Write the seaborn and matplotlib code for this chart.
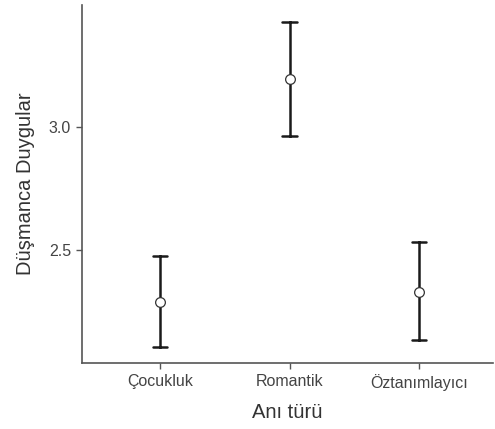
import pandas as pd
import matplotlib
matplotlib.use("Agg")
import matplotlib.pyplot as plt
import seaborn as sns

# summary values: mean and interval ends per memory type
categories = ["Çocukluk", "Romantik", "Öztanımlayıcı"]
means = [2.29, 3.195, 2.33]
lower = [2.105, 2.964, 2.133]
upper = [2.476, 3.426, 2.533]

# long table: each category gets its lower, mean and upper value;
# the median is the mean and min/max give the interval
rows = []
for cat, lo, m, hi in zip(categories, lower, means, upper):
    for v in (lo, m, hi):
        rows.append({"Anı türü": cat, "Düşmanca Duygular": v})
df = pd.DataFrame(rows)

sns.set_style("white")
plt.rcParams["font.family"] = ["Liberation Sans", "DejaVu Sans"]

fig = plt.figure(figsize=(4.95, 4.29), dpi=100)
ax = fig.add_axes([0.166, 0.154, 0.83, 0.834])

sns.pointplot(
    data=df, x="Anı türü", y="Düşmanca Duygular", order=categories,
    estimator="median", errorbar=lambda x: (x.min(), x.max()),
    color="#1a1a1a", linestyle="none", capsize=0.11,
    err_kws={"linewidth": 1.8, "color": "#1a1a1a"},
    marker="o", markersize=7, markerfacecolor="white",
    markeredgecolor="#333333", markeredgewidth=0.9, ax=ax,
)

# keep the open circles above the error bars
for line in ax.lines:
    if line.get_marker() == "o":
        line.set_zorder(5)

ax.set_ylim(2.042, 3.493)
ax.set_xlim(-0.6, 2.57)
ax.set_yticks([2.5, 3.0])
ax.set_yticklabels(["2.5", "3.0"])

sns.despine(ax=ax)
for side in ("left", "bottom"):
    ax.spines[side].set_color("#555555")
    ax.spines[side].set_linewidth(1.2)
ax.tick_params(axis="both", bottom=True, left=True, length=4, width=1,
               color="#555555", labelsize=11.5, labelcolor="#444444", pad=4)
ax.set_xlabel("Anı türü", fontsize=14.5, color="#333333", labelpad=9)
ax.set_ylabel("Düşmanca Duygular", fontsize=14.5, color="#333333", labelpad=10)

fig.savefig("out.png", dpi=100)
